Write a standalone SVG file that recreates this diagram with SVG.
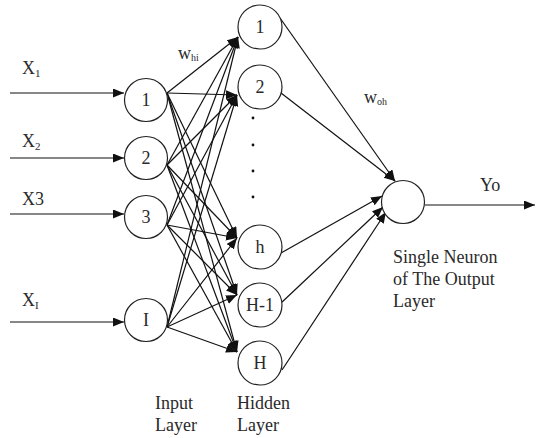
<svg xmlns="http://www.w3.org/2000/svg" width="536" height="438" viewBox="0 0 536 438" font-family="'Liberation Serif', 'Times New Roman', serif">
<style>
.n{fill:#fff;stroke:#222;stroke-width:1.2}
.t{font-family:'Liberation Serif','Times New Roman',serif;font-size:18px;fill:#2a2a2a}
.c{text-anchor:middle}
.l{stroke:#111;stroke-width:1.2;fill:none;marker-end:url(#a)}
</style>
<defs>
<marker id="a" markerUnits="userSpaceOnUse" markerWidth="12" markerHeight="10" refX="11" refY="4.5" orient="auto">
<path d="M0,0 L11,4.5 L0,9 Z" fill="#111"/>
</marker>
</defs>
<g id="connectors">
<line class="l" x1="10" y1="93" x2="124" y2="93"/>
<line class="l" x1="10" y1="158" x2="124" y2="158"/>
<line class="l" x1="10" y1="214" x2="124" y2="214"/>
<line class="l" x1="10" y1="322" x2="124" y2="322"/>
<line class="l" x1="167" y1="93" x2="238" y2="37"/>
<line class="l" x1="167" y1="93" x2="237" y2="95"/>
<line class="l" x1="167" y1="93" x2="237" y2="238"/>
<line class="l" x1="167" y1="93" x2="237" y2="295"/>
<line class="l" x1="167" y1="93" x2="237" y2="352"/>
<line class="l" x1="167" y1="165" x2="238" y2="37"/>
<line class="l" x1="167" y1="165" x2="237" y2="95"/>
<line class="l" x1="167" y1="165" x2="237" y2="238"/>
<line class="l" x1="167" y1="165" x2="237" y2="295"/>
<line class="l" x1="167" y1="165" x2="237" y2="352"/>
<line class="l" x1="167" y1="225" x2="238" y2="37"/>
<line class="l" x1="167" y1="225" x2="237" y2="95"/>
<line class="l" x1="167" y1="225" x2="237" y2="238"/>
<line class="l" x1="167" y1="225" x2="237" y2="295"/>
<line class="l" x1="167" y1="225" x2="237" y2="352"/>
<line class="l" x1="167" y1="327" x2="238" y2="37"/>
<line class="l" x1="167" y1="327" x2="237" y2="95"/>
<line class="l" x1="167" y1="327" x2="237" y2="238"/>
<line class="l" x1="167" y1="327" x2="237" y2="295"/>
<line class="l" x1="167" y1="327" x2="237" y2="352"/>
<line class="l" x1="280" y1="18" x2="395" y2="181"/>
<line class="l" x1="281" y1="93" x2="395" y2="181"/>
<line class="l" x1="281" y1="253" x2="382" y2="196"/>
<line class="l" x1="281" y1="303" x2="383" y2="207"/>
<line class="l" x1="282" y1="370" x2="386" y2="212"/>
<line class="l" x1="425" y1="205" x2="535" y2="205"/>
</g>
<g id="input-1"><circle class="n" cx="146" cy="100" r="21.5"/><text class="t c" x="146" y="106">1</text></g>
<g id="input-2"><circle class="n" cx="146" cy="158" r="21.5"/><text class="t c" x="146" y="164">2</text></g>
<g id="input-3"><circle class="n" cx="146" cy="217" r="21.5"/><text class="t c" x="146" y="223">3</text></g>
<g id="input-I"><circle class="n" cx="146" cy="320" r="21.5"/><text class="t c" x="146" y="326">I</text></g>
<g id="hidden-1"><circle class="n" cx="260" cy="27" r="22"/><text class="t c" x="260" y="33">1</text></g>
<g id="hidden-2"><circle class="n" cx="260" cy="87" r="22"/><text class="t c" x="260" y="93">2</text></g>
<g id="hidden-h"><circle class="n" cx="260" cy="247" r="22"/><text class="t c" x="260" y="253">h</text></g>
<g id="hidden-H-1"><circle class="n" cx="260" cy="305" r="22"/><text class="t c" x="260" y="311">H-1</text></g>
<g id="hidden-H"><circle class="n" cx="260" cy="363" r="22"/><text class="t c" x="260" y="369">H</text></g>
<g id="output"><circle class="n" cx="403" cy="202" r="21.5"/></g>
<g id="dots" fill="#111">
<circle cx="253" cy="118" r="1.4"/><circle cx="253" cy="145" r="1.4"/><circle cx="253" cy="171" r="1.4"/><circle cx="253" cy="197" r="1.4"/>
</g>
<g id="labels">
<text class="t" x="22" y="74">X<tspan font-size="11" dy="3">1</tspan></text>
<text class="t" x="22" y="147">X<tspan font-size="11" dy="3">2</tspan></text>
<text class="t" x="22" y="205">X3</text>
<text class="t" x="22" y="306">X<tspan font-size="11" dy="3">I</tspan></text>
<text class="t" x="178" y="59" font-size="15">w<tspan font-size="10" dy="2">hi</tspan></text>
<text class="t" x="364" y="103" font-size="15">w<tspan font-size="10" dy="2">oh</tspan></text>
<text class="t" x="480" y="191">Yo</text>
<text class="t" x="393" y="263">Single Neuron</text>
<text class="t" x="393" y="285">of The Output</text>
<text class="t" x="393" y="307">Layer</text>
<text class="t" x="155" y="409">Input</text>
<text class="t" x="155" y="431">Layer</text>
<text class="t" x="237" y="409">Hidden</text>
<text class="t" x="237" y="431">Layer</text>
</g>
</svg>
